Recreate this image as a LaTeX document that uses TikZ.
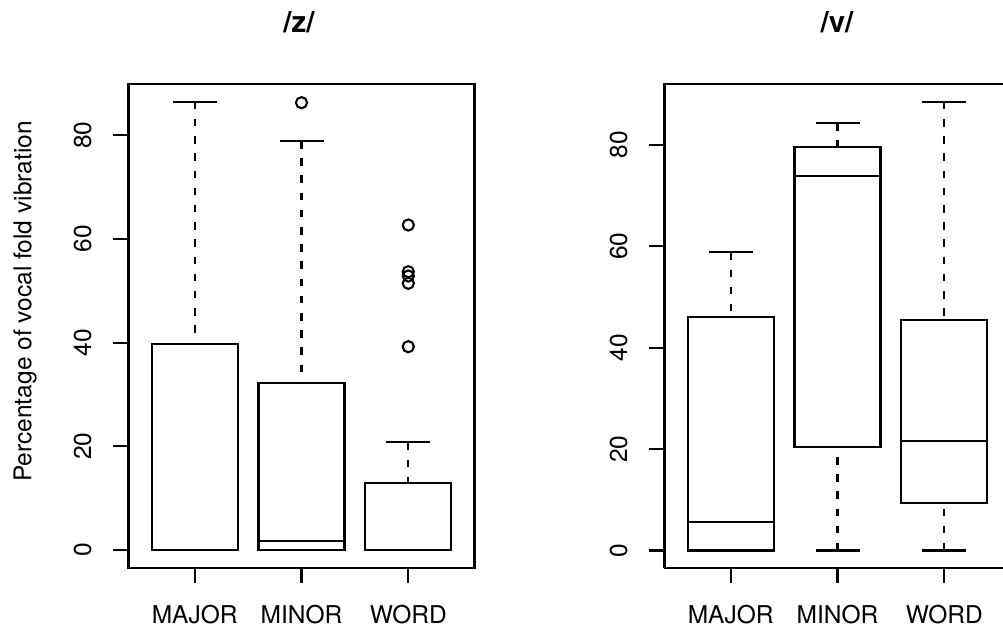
\documentclass[tikz,border=0pt]{standalone}
\usepackage{fontspec}
\setmainfont{TeX Gyre Heros}
\newcommand\mybox[6]{%
  \draw (#1-0.4026,#3) rectangle (#1+0.4026,#5);
  \draw (#1-0.4026,#4) -- (#1+0.4026,#4);
  \draw[whisk] (#1,#6) -- (#1,#5);
  \draw[whisk] (#1,#2) -- (#1,#3);
  \draw (#1-0.206,#6) -- (#1+0.206,#6);
  \draw (#1-0.206,#2) -- (#1+0.206,#2);
}
\begin{document}
\begin{tikzpicture}[x=1pt,y=-1pt,line width=2.1pt,
  axtext/.style={font=\fontsize{24.5}{29}\selectfont, inner sep=0pt},
  ttl/.style={font=\fontsize{29.4}{35}\selectfont\bfseries, inner sep=0pt, anchor=base},
  whisk/.style={dash pattern=on 7.5pt off 9.7pt},
  outl/.style={radius=5.6pt}]
\fill[white] (0,0) rectangle (1003,630);
\useasboundingbox (0,0) rectangle (1003,630);
\clip (0,0) rectangle (1003,630);

% titles
\node[ttl] (tz) at (299,32.5) {/z/};
\node[ttl] (tv) at (837,32.5) {/v/};

% y label
\node[axtext, rotate=90] (ylab) at (25,301.5) {Percentage of vocal fold vibration};

% x labels
\node[axtext, anchor=base] (zmaj) at (194.7,623) {MAJOR};
\node[axtext, anchor=base] (zmin) at (301.5,623) {MINOR};
\node[axtext, anchor=base] (zwrd) at (408.3,623) {WORD};
\node[axtext, anchor=base] (vmaj) at (730.7,623) {MAJOR};
\node[axtext, anchor=base] (vmin) at (837.5,623) {MINOR};
\node[axtext, anchor=base] (vwrd) at (944.3,623) {WORD};

% left panel /z/
\begin{scope}[shift={(87.9,550)}, x=106.8pt, y=5.185pt]
  \draw (0.38,-3.42) rectangle (3.62,89.9);
  \foreach \v in {0,20,40,60,80} {
    \draw (0.38,\v) -- ++(-15pt,0pt);
    \node[axtext, rotate=90] (zy\v) at (-0.05,\v) {\v};
  }
  \foreach \i in {1,2,3} { \draw (\i,-3.42) -- ++(0pt,-15.6pt); }
  \mybox{1}{0}{0}{0}{39.7}{86.46}
  \mybox{2}{0}{0}{1.74}{32.27}{78.88}
  \mybox{3}{0}{0}{0}{12.86}{20.77}
  \draw (2,86.27) circle[outl];
  \foreach \o in {62.68,53.67,52.84,51.44,39.21} { \draw (3,\o) circle[outl]; }
\end{scope}

% right panel /v/
\begin{scope}[shift={(623.9,550.5)}, x=106.8pt, y=5.07pt]
  \draw (0.38,-3.39) -- (0.38,92.0) -- (3.7,92.0);
  \draw (0.38,-3.39) -- (3.7,-3.39);
  \foreach \v in {0,20,40,60,80} {
    \draw (0.38,\v) -- ++(-15pt,0pt);
    \node[axtext, rotate=90] (vy\v) at (-0.05,\v) {\v};
  }
  \foreach \i in {1,2,3} { \draw (\i,-3.39) -- ++(0pt,-15.6pt); }
  \mybox{1}{0}{0}{5.56}{46.1}{58.8}
  \mybox{2}{0}{20.36}{73.9}{79.6}{84.3}
  \mybox{3}{0}{9.3}{21.6}{45.4}{88.5}
\end{scope}
\end{tikzpicture}
\end{document}
